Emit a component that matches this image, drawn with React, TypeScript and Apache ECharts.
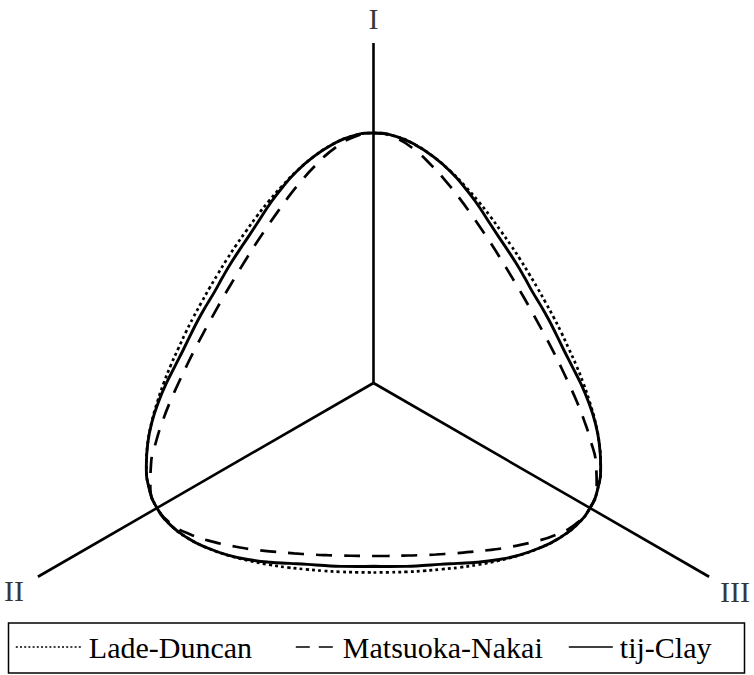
import { useEffect, useRef } from 'react';
import * as echarts from 'echarts';

// Deviatoric-plane profiles: radius (normalised by the compression radius)
// at each angle measured from the nearest compression meridian.
const lodeAngles = [0, 5, 10, 15, 20, 25, 30, 35, 40, 45, 50, 55, 60];
const ladeDuncan = [1.0, 0.991, 0.967, 0.935, 0.901, 0.868, 0.839, 0.814, 0.793, 0.778, 0.767, 0.76, 0.758];
const matsuokaNakai = [1.0, 0.985, 0.947, 0.9, 0.855, 0.815, 0.78, 0.752, 0.73, 0.713, 0.701, 0.694, 0.692];
const tijClay = [1.0, 0.991, 0.967, 0.935, 0.9, 0.863, 0.828, 0.796, 0.772, 0.756, 0.745, 0.737, 0.733];

// Principal stress axes in the plane (polar angle in degrees)
const axisNames = ['I', 'II', 'III'];
const axisDirections = [90, 210, 330];
const axisLengths = [1.36, 1.55, 1.55];
const axisLabelRadii = [1.46, 1.66, 1.67];

const SERIF = 'Liberation Serif';

function closedCurve(profile: number[]) {
  // one loop round the plane, starting on the extension meridian below the origin
  const step = lodeAngles[1] - lodeAngles[0];
  const pts: number[][] = [];
  for (let a = 270; a <= 630; a += step) {
    const ang = a % 360;
    let d = 360;
    for (const m of axisDirections) {
      const diff = Math.abs(((ang - m + 540) % 360) - 180);
      d = Math.min(d, diff);
    }
    const idx = lodeAngles.indexOf(Math.round(d));
    pts.push([profile[idx], ang]);
  }
  return pts;
}

export default function App() {
  const ref = useRef<HTMLDivElement>(null);

  useEffect(() => {
    document.body.style.margin = '0';
    const chart = echarts.init(ref.current!, null, { renderer: 'svg' });

    const axisSeries = axisDirections.map((dir, i) => ({
      type: 'line',
      coordinateSystem: 'polar',
      name: 'axis-' + axisNames[i],
      data: [
        [0, dir],
        [axisLengths[i], dir],
      ],
      symbol: 'none',
      clip: false,
      silent: true,
      lineStyle: { color: '#000', width: 2.6 },
    }));

    const curve = (name: string, profile: number[], type: any, width: number) => ({
      type: 'line',
      coordinateSystem: 'polar',
      name,
      data: closedCurve(profile),
      symbol: 'none',
      showSymbol: false,
      smooth: 0.5,
      clip: false,
      silent: true,
      itemStyle: { color: '#000' },
      lineStyle: { color: '#000', width, type },
    });

    const legendBase = (name: string, left: number, itemWidth: number, lineType: any, lineWidth: number) => ({
      data: [name],
      left,
      top: 632,
      orient: 'horizontal',
      padding: 0,
      itemWidth,
      itemHeight: 14,
      selectedMode: false,
      itemStyle: { color: 'rgba(0,0,0,0)', borderWidth: 0, opacity: 0 },
      lineStyle: { type: lineType, width: lineWidth, color: '#000' },
      textStyle: { fontFamily: SERIF, fontSize: 30, color: '#000', padding: [0, 0, 0, 2] },
    });

    chart.setOption({
      animation: false,
      backgroundColor: '#fff',
      textStyle: { fontFamily: SERIF },
      polar: { center: [373.5, 383], radius: 500 },
      radiusAxis: { type: 'value', min: 0, max: 2, show: false },
      angleAxis: {
        type: 'value',
        min: 0,
        max: 360,
        startAngle: 0,
        clockwise: false,
        show: false,
      },
      legend: [
        legendBase('Lade-Duncan', 15, 66, [2, 2.2], 1.6),
        legendBase('Matsuoka-Nakai', 295, 40, [14, 9], 1.6),
        legendBase('tij-Clay', 568, 44, 'solid', 1.6),
      ],
      graphic: [
        {
          type: 'rect',
          shape: { x: 8.5, y: 623, width: 736, height: 50 },
          style: { fill: 'none', stroke: '#000', lineWidth: 1.5 },
          silent: true,
        },
      ],
      series: [
        ...axisSeries,
        curve('Lade-Duncan', ladeDuncan, [3, 3.2], 2.7),
        curve('Matsuoka-Nakai', matsuokaNakai, [16, 12], 2.7),
        curve('tij-Clay', tijClay, 'solid', 2.9),
        {
          type: 'scatter',
          coordinateSystem: 'polar',
          name: 'axis-names',
          symbolSize: 0,
          silent: true,
          clip: false,
          data: axisNames.map((n, i) => ({ name: n, value: [axisLabelRadii[i], axisDirections[i]] })),
          label: {
            show: true,
            position: 'inside',
            formatter: '{b}',
            fontFamily: SERIF,
            fontSize: 30,
            color: '#000',
          },
        },
      ],
    });

    return () => chart.dispose();
  }, []);

  return <div ref={ref} style={{ width: 754, height: 675 }} />;
}
